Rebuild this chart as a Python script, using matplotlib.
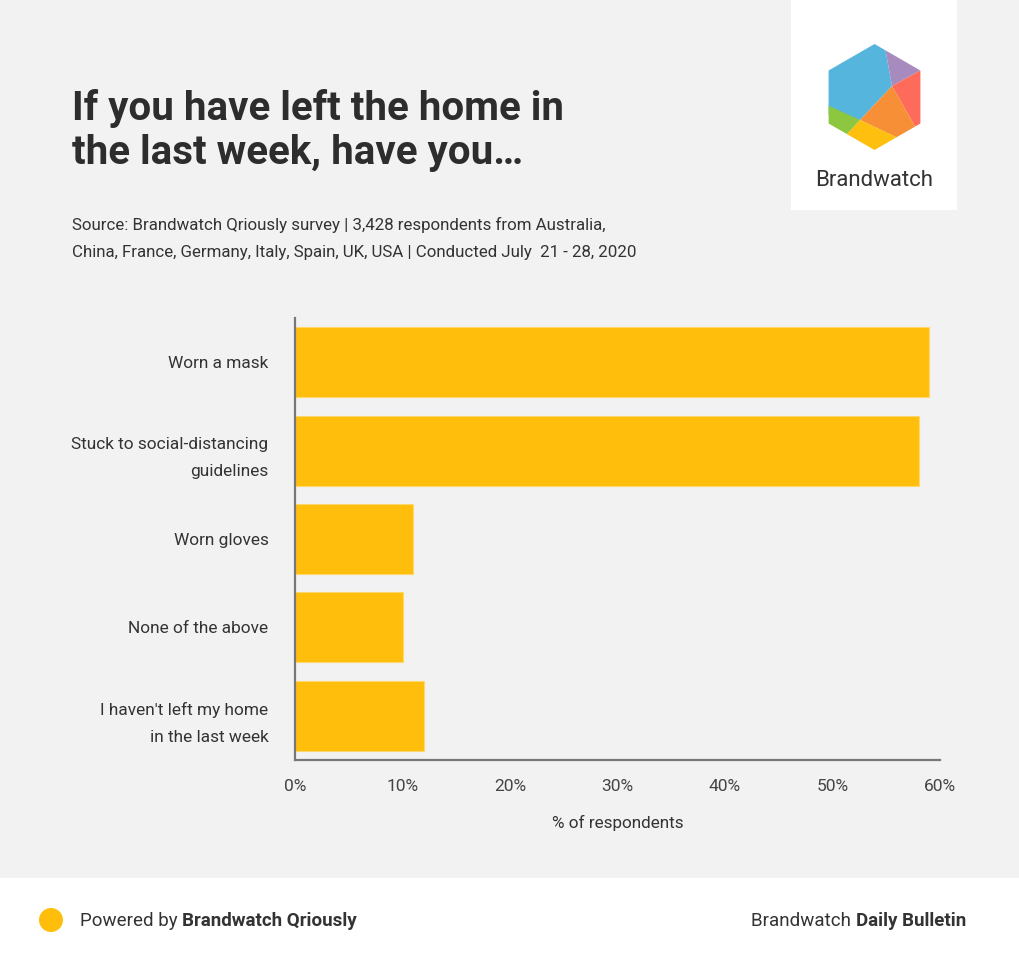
import matplotlib
matplotlib.use("Agg")
import matplotlib.pyplot as plt
from matplotlib.patches import Polygon, Rectangle, Circle
from matplotlib.ticker import FuncFormatter
import numpy as np

plt.rcParams['font.family'] = ['Roboto', 'DejaVu Sans']

categories = ["Worn a mask", "Stuck to social-distancing\nguidelines", "Worn gloves",
              "None of the above", "I haven't left my home\nin the last week"]
values = [59, 58, 11, 10, 12]
xticks = [0, 10, 20, 30, 40, 50, 60]

title = "If you have left the home in\nthe last week, have you…"
subtitle = ("Source: Brandwatch Qriously survey | 3,428 respondents from Australia,\n"
            "China, France, Germany, Italy, Spain, UK, USA | Conducted July  21 - 28, 2020")

W, H = 1020, 960
BG = "#f2f2f2"
BAR = "#ffbe0b"
TXT = "#333333"

fig = plt.figure(figsize=(W/100, H/100), dpi=100)
fig.patch.set_facecolor(BG)

# overlay in pixel coordinates for decorations
ov = fig.add_axes([0, 0, 1, 1], zorder=0)
ov.set_xlim(0, W); ov.set_ylim(H, 0); ov.axis('off')
ov.add_patch(Rectangle((0, 878), W, H - 878, facecolor='white', edgecolor='none'))
ov.add_patch(Rectangle((791, 0), 166, 210, facecolor='white', edgecolor='none'))

# logo hexagon
cx, cy, R = 874.5, 97, 53
hexv = [(cx + R*np.sin(np.radians(a)), cy - R*np.cos(np.radians(a))) for a in range(0, 360, 60)]
hexpatch = Polygon(hexv, closed=True, facecolor='none', edgecolor='none')
ov.add_patch(hexpatch)
P = (892, 86); Q = (860, 120)
top = hexv[0]; ur = hexv[1]; lr = hexv[2]; bot = hexv[3]; ll = hexv[4]; ul = hexv[5]
big = 60
pieces = [
    ("#56b5dc", [(top[0]-1, top[1]-big), P, Q, (ll[0]-big, 105), (ul[0]-big, ul[1]-big)]),
    ("#a78bbf", [(top[0]-1, top[1]-big), (ur[0]+big, ur[1]-big*0.6), (ur[0], ur[1]), P]),
    ("#ff6b5a", [(ur[0], ur[1]), (ur[0]+big, ur[1]), (lr[0]+big, 128), (916, 128), P]),
    ("#f68f35", [P, (916, 128), (lr[0]+big, 140), (898, 138+big), (898, 138), Q]),
    ("#ffbf0f", [Q, (898, 138), (898, 138+big), (846-big, 135+big), (846, 135)]),
    ("#8dc63f", [Q, (846, 135), (846-big, 135+big), (ll[0]-big, 105), (827, 105)]),
]
for col, pts in pieces:
    pg = Polygon(pts, closed=True, facecolor=col, edgecolor='none')
    ov.add_patch(pg)
    pg.set_clip_path(hexpatch)
ov.text(874.5, 181, "Brandwatch", fontsize=16, color=TXT, ha='center', va='center')

# titles
fig.text(72/W, 1 - 164/H, title, fontsize=29, fontweight='bold', color="#2d2d2d",
         ha='left', va='baseline', linespacing=1.2)
fig.text(72/W, 1 - 257/H, subtitle, fontsize=12.2, color=TXT,
         ha='left', va='baseline', linespacing=2.0)

# footer
FS = 13.5
FY = 921
ov.add_patch(Circle((51, 920), 12, facecolor=BAR, edgecolor='none'))
t1 = fig.text(80/W, 1 - FY/H, "Powered by ", fontsize=FS, color=TXT, ha='left', va='center')
fig.canvas.draw()
r = fig.canvas.get_renderer()
bb = t1.get_window_extent(renderer=r)
fig.text(bb.x1 / W, 1 - FY/H, "Brandwatch Qriously", fontsize=FS, fontweight='bold',
         color=TXT, ha='left', va='center')
t2 = fig.text(966/W, 1 - FY/H, "Daily Bulletin", fontsize=FS, fontweight='bold',
              color=TXT, ha='right', va='center')
fig.canvas.draw()
bb2 = t2.get_window_extent(renderer=r)
fig.text(bb2.x0 / W, 1 - FY/H, "Brandwatch ", fontsize=FS, color=TXT, ha='right', va='center')

# main chart
ax = fig.add_axes([295/W, 1 - 760/H, (940-295)/W, (760-318)/H], zorder=2)
ax.set_facecolor('none')
y = np.arange(len(categories))
ax.barh(y, values, height=0.79, color=BAR, edgecolor='#ffd76a', linewidth=0.8)
ax.set_ylim(len(categories) - 0.5, -0.5)
ax.set_xlim(0, 60)
ax.set_yticks(y)
ax.set_yticklabels(categories, fontsize=12.4, color=TXT, linespacing=2.0)
ax.set_xticks(xticks)
ax.xaxis.set_major_formatter(FuncFormatter(lambda v, p: f"{int(v)}%"))
ax.tick_params(axis='x', labelsize=12.5, labelcolor="#444444", length=0, pad=14)
ax.tick_params(axis='y', length=0, pad=19)
for s in ['top', 'right']:
    ax.spines[s].set_visible(False)
for s in ['left', 'bottom']:
    ax.spines[s].set_color('#777777')
    ax.spines[s].set_linewidth(1.6)
ax.set_xlabel("% of respondents", fontsize=12.3, color=TXT, labelpad=15)

fig.savefig("out.png", dpi=100, facecolor=BG)
